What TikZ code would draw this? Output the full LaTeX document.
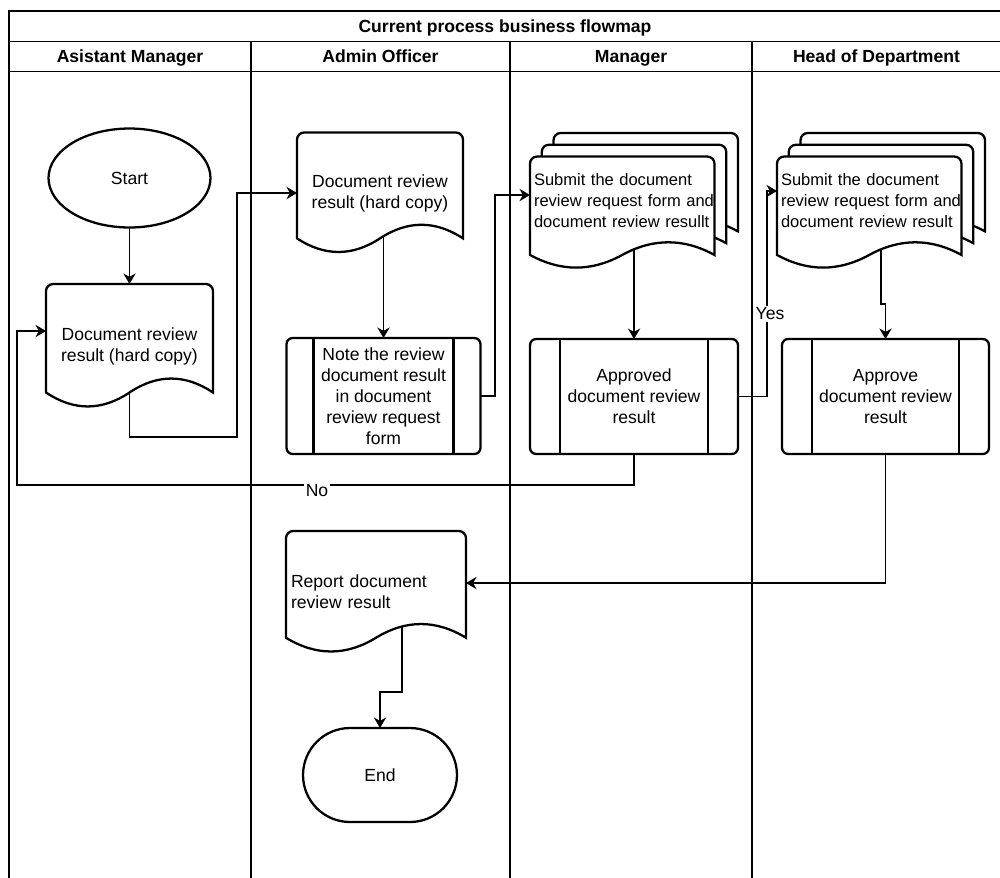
\documentclass[tikz,border=0pt]{standalone}
\usepackage{fontspec}
\setmainfont{Liberation Sans}
\usetikzlibrary{
    shapes.geometric,
    shapes.misc,
    arrows.meta,
    positioning,
    backgrounds,
    calc
}
\makeatletter
% wavy document outline: left, bottom, right, top (pt)
\def\wavedocpath#1#2#3#4{%
  \pgfmathsetmacro\dk@l{#1}\pgfmathsetmacro\dk@b{#2}%
  \pgfmathsetmacro\dk@r{#3}\pgfmathsetmacro\dk@t{#4}%
  \pgfmathsetmacro\dk@d{0.25*(\dk@t-\dk@b)}%
  \pgfmathsetmacro\dk@s{(\dk@r-\dk@l)/6}%
  \pgfmathsetmacro\dk@m{(\dk@l+\dk@r)/2}%
  \pgfmathsetmacro\dk@c{\dk@b+0.5*\dk@d}%
  \pgfmathsetmacro\dk@hi{\dk@b+1.1*\dk@d}%
  \pgfmathsetmacro\dk@lo{\dk@b-0.1*\dk@d}%
  \def\dk@q{4}\def\dk@k{1.8}%
  \pgfpathmoveto{\pgfpoint{\dk@l pt}{\dk@c pt}}%
  \pgfpathlineto{\pgfpoint{\dk@l pt}{\dk@t pt-\dk@q pt}}%
  \pgfpathcurveto{\pgfpoint{\dk@l pt}{\dk@t pt-\dk@k pt}}{\pgfpoint{\dk@l pt+\dk@k pt}{\dk@t pt}}{\pgfpoint{\dk@l pt+\dk@q pt}{\dk@t pt}}%
  \pgfpathlineto{\pgfpoint{\dk@r pt-\dk@q pt}{\dk@t pt}}%
  \pgfpathcurveto{\pgfpoint{\dk@r pt-\dk@k pt}{\dk@t pt}}{\pgfpoint{\dk@r pt}{\dk@t pt-\dk@k pt}}{\pgfpoint{\dk@r pt}{\dk@t pt-\dk@q pt}}%
  \pgfpathlineto{\pgfpoint{\dk@r pt}{\dk@c pt}}%
  \pgfpathcurveto{\pgfpoint{\dk@r pt-\dk@s pt}{\dk@hi pt}}{\pgfpoint{\dk@m pt+\dk@s pt}{\dk@hi pt}}{\pgfpoint{\dk@m pt}{\dk@c pt}}%
  \pgfpathcurveto{\pgfpoint{\dk@m pt-\dk@s pt}{\dk@lo pt}}{\pgfpoint{\dk@l pt+\dk@s pt}{\dk@lo pt}}{\pgfpoint{\dk@l pt}{\dk@c pt}}%
  \pgfpathclose
}
% single document
\pgfdeclareshape{wavedoc}{
  \inheritsavedanchors[from=rectangle]
  \inheritanchorborder[from=rectangle]
  \inheritanchor[from=rectangle]{center}
  \inheritanchor[from=rectangle]{north}
  \inheritanchor[from=rectangle]{south}
  \inheritanchor[from=rectangle]{east}
  \inheritanchor[from=rectangle]{west}
  \inheritanchor[from=rectangle]{north west}
  \inheritanchor[from=rectangle]{north east}
  \inheritanchor[from=rectangle]{south west}
  \inheritanchor[from=rectangle]{south east}
  \backgroundpath{%
    \southwest\edef\dk@xa{\the\pgf@x}\edef\dk@ya{\the\pgf@y}%
    \northeast\edef\dk@xb{\the\pgf@x}\edef\dk@yb{\the\pgf@y}%
    \wavedocpath{\dk@xa}{\dk@ya}{\dk@xb}{\dk@yb}%
  }
}
% stack of three documents
\pgfdeclareshape{wavestack}{
  \inheritsavedanchors[from=rectangle]
  \inheritanchorborder[from=rectangle]
  \inheritanchor[from=rectangle]{center}
  \inheritanchor[from=rectangle]{north}
  \inheritanchor[from=rectangle]{south}
  \inheritanchor[from=rectangle]{east}
  \inheritanchor[from=rectangle]{west}
  \inheritanchor[from=rectangle]{north west}
  \inheritanchor[from=rectangle]{north east}
  \inheritanchor[from=rectangle]{south west}
  \inheritanchor[from=rectangle]{south east}
  \behindbackgroundpath{%
    \southwest\edef\dk@xa{\the\pgf@x}\edef\dk@ya{\the\pgf@y}%
    \northeast\edef\dk@xb{\the\pgf@x}\edef\dk@yb{\the\pgf@y}%
    \pgfscope
      \pgfsetfillcolor{white}\pgfsetstrokecolor{black}%
      \wavedocpath{\dk@xa+13.4}{\dk@ya+13.4}{\dk@xb}{\dk@yb}%
      \pgfusepath{fill,stroke}%
      \wavedocpath{\dk@xa+6.7}{\dk@ya+6.7}{\dk@xb-6.7}{\dk@yb-6.7}%
      \pgfusepath{fill,stroke}%
    \endpgfscope
  }
  \backgroundpath{%
    \southwest\edef\dk@xa{\the\pgf@x}\edef\dk@ya{\the\pgf@y}%
    \northeast\edef\dk@xb{\the\pgf@x}\edef\dk@yb{\the\pgf@y}%
    \wavedocpath{\dk@xa}{\dk@ya}{\dk@xb-13.4}{\dk@yb-13.4}%
  }
}
\makeatother
\tikzset{
    % Pool and lanes
    pooltitle/.style={
        rectangle,
        draw=black,
        line width=0.9pt,
        minimum height=0.61cm,
        text height=7.2pt,
        text depth=0.4pt,
        inner sep=0pt,
        outer sep=0pt,
        font=\bfseries
    },
    lanehead/.style={
        rectangle,
        draw=black,
        line width=0.9pt,
        minimum height=0.6cm,
        text height=7.2pt,
        text depth=0.4pt,
        inner sep=0pt,
        outer sep=0pt,
        font=\bfseries
    },
    laneline/.style={
        line width=0.9pt,
        draw=black
    },
    % Terminals
    startshape/.style={
        ellipse,
        draw=black,
        fill=white,
        line width=1.3pt,
        minimum width=3.24cm,
        minimum height=1.98cm,
        inner sep=0pt,
        outer sep=0pt
    },
    endshape/.style={
        rounded rectangle,
        draw=black,
        fill=white,
        line width=1.3pt,
        minimum width=3.08cm,
        minimum height=1.88cm,
        inner sep=0pt,
        outer sep=0pt
    },
    % Documents
    docbox/.style={
        wavedoc,
        draw=black,
        fill=white,
        line width=1.3pt,
        align=center,
        inner sep=0pt,
        outer sep=0pt
    },
    stackbox/.style={
        wavestack,
        draw=black,
        fill=white,
        line width=1.3pt,
        minimum width=4.16cm,
        minimum height=2.72cm,
        text width=4cm,
        align=left,
        font=\fontsize{9.4}{12}\selectfont,
        inner sep=0pt,
        outer sep=0pt
    },
    % Predefined process
    procbox/.style={
        rectangle,
        draw=black,
        fill=white,
        line width=1.3pt,
        rounded corners=3.5pt,
        minimum height=2.3cm,
        align=center,
        inner sep=0pt,
        outer sep=0pt,
        path picture={
            \draw[line width=1.3pt] ([xshift=#1]path picture bounding box.north west) -- ([xshift=#1]path picture bounding box.south west);
            \draw[line width=1.3pt] ([xshift=-#1]path picture bounding box.north east) -- ([xshift=-#1]path picture bounding box.south east);
        }
    },
    procbox/.default=0.58cm,
    % Arrows
    flow/.style={
        -{Stealth[length=6pt,width=7pt]},
        line width=0.85pt,
        draw=black
    },
    flowlabel/.style={
        fill=white,
        inner sep=1pt
    }
}

\begin{document}
\begin{tikzpicture}[x=0.02cm, y=-0.02cm]
    \useasboundingbox (0,0) rectangle (1000,877);

    % Pool title and lane headers
    \node[pooltitle, minimum width=19.84cm] (title) at (505,26.25) {Current process business flowmap};
    \node[lanehead, minimum width=4.84cm] (amhead) at (130,56.5) {Asistant Manager};
    \node[lanehead, minimum width=5.18cm] (aohead) at (380.5,56.5) {Admin Officer};
    \node[lanehead, minimum width=4.84cm] (mgrhead) at (631,56.5) {Manager};
    \node[lanehead, minimum width=4.98cm] (hodhead) at (876.5,56.5) {Head of Department};

    % Lane borders
    \draw[laneline] (amhead.south west) -- (9,880);
    \draw[laneline] (aohead.south west) -- (251,880);
    \draw[laneline] (mgrhead.south west) -- (510,880);
    \draw[laneline] (hodhead.south west) -- (752,880);
    \draw[laneline] (hodhead.south east) -- (1001,880);

    % Asistant Manager
    \node[startshape] (start) at (129.5,178) {Start};
    \node[docbox, minimum width=3.34cm, minimum height=2.48cm] (amdoc) at (129.5,346) {Document review\\result (hard copy)};

    % Admin Officer
    \node[docbox, minimum width=3.32cm, minimum height=2.42cm] (aodoc) at (380,193) {Document review\\result (hard copy)};
    \node[procbox=0.54cm, minimum width=3.88cm, minimum height=2.32cm] (aonote) at (383.5,396) {Note the review\\document result\\in document\\review request\\form};
    \node[docbox, minimum width=3.6cm, minimum height=2.44cm, text width=3.4cm, align=left] (rptdoc) at (376,592) {Report document\\review result};
    \node[endshape] (endnode) at (380,775) {End};

    % Manager
    \node[stackbox] (mgrdoc) at (634,201) {Submit the document\\review request form and\\document review resullt};
    \node[procbox=0.6cm, minimum width=4.16cm] (mgrproc) at (634,396.5) {Approved\\document review\\result};

    % Head of Department
    \node[stackbox] (hoddoc) at (881,201) {Submit the document\\review request form and\\document review result};
    \node[procbox=0.6cm, minimum width=4.14cm] (hodproc) at (885.5,396.5) {Approve\\document review\\result};

    % Bends
    \coordinate (amjog) at (237,437);
    \coordinate (mgrin) at (495,195);
    \coordinate (yesjog) at (767,191);
    \coordinate (nojog) at (17,485);
    \coordinate (hodjog) at (885.5,304);
    \coordinate (rptjog) at (402,692);

    % Connectors
    \begin{scope}[on background layer]
        \draw[flow] (start) -- (amdoc);
        \draw[flow] (amdoc.center) |- (amjog) |- (aodoc.west);
        \draw[flow] (aodoc.center -| aonote.north) -- (aonote.north);
        \draw[flow] (aonote.east) -| (mgrin) -- (mgrin -| mgrdoc.west);
        \draw[flow] (mgrdoc.center) -- (mgrproc.north);
        \draw[flow] (mgrproc.east) -| (yesjog) -- (yesjog -| hoddoc.west);
        \node[flowlabel] (yeslbl) at (770,314) {Yes};
        \draw[flow] (mgrproc.south) |- (nojog) |- ([yshift=0.3cm]amdoc.west);
        \node[flowlabel] (nolbl) at (317,491) {No};
        \draw[flow] (hoddoc.center) |- (hodjog) -- (hodproc.north);
        \draw[flow] (hodproc.south) |- ([yshift=0.18cm]rptdoc.east);
        \draw[flow] (rptjog |- rptdoc.center) -- (rptjog) -| (endnode.north);
    \end{scope}

\end{tikzpicture}
\end{document}
